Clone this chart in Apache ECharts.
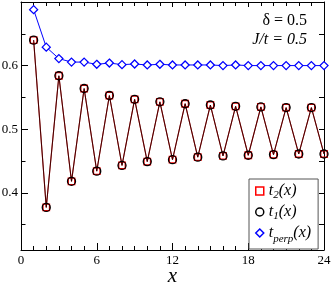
<!DOCTYPE html>
<html>
<head>
<meta charset="utf-8">
<script src="https://cdn.jsdelivr.net/npm/echarts@6/dist/echarts.min.js"></script>
<style>html,body{margin:0;padding:0;background:#fff}#c{width:332px;height:285px}</style>
</head>
<body>
<div id="c"></div>
<script>
const xs = [1,2,3,4,5,6,7,8,9,10,11,12,13,14,15,16,17,18,19,20,21,22,23,24];
const t1 = [0.640,0.377,0.584,0.418,0.564,0.434,0.553,0.443,0.547,0.449,0.543,0.452,
            0.540,0.456,0.538,0.458,0.536,0.459,0.535,0.460,0.534,0.461,0.534,0.461];
const t2 = [0.640,0.377,0.584,0.418,0.564,0.434,0.553,0.443,0.547,0.449,0.543,0.452,
            0.540,0.456,0.538,0.458,0.536,0.459,0.535,0.460,0.534,0.461,0.534,0.461];
const tperp = [0.688,0.629,0.611,0.6055,0.6055,0.602,0.604,0.6015,0.6025,0.601,0.602,0.601,
               0.601,0.601,0.601,0.600,0.601,0.600,0.600,0.600,0.600,0.600,0.600,0.600];
const yLabels = [0.4,0.5,0.6];
const yMinor = [0.35,0.45,0.55,0.65];
const xLabels = [0,6,12,18,24];

const SERIF = '"Liberation Serif","DejaVu Serif",serif';
const pair = a => xs.map((x,i)=>[x,a[i]]);
const chart = echarts.init(document.getElementById('c'), null, {renderer:'canvas'});

const yBase = {type:'value', min:0.31, max:0.7, splitLine:{show:false}};
const xBase = {type:'value', min:0, max:24, interval:6, splitLine:{show:false}};
const legendNames = {
  t2: '{i|t}{s|2}{i|(x)}',
  t1: '{i|t}{s|1}{i|(x)}',
  tperp: '{i|t}{p|perp}{i|(x)}'
};

chart.setOption({
  animation:false,
  grid:{left:21, right:8, top:2, bottom:35, outerBoundsMode:'none', containLabel:false},
  xAxis:[
    Object.assign({}, xBase, {position:'bottom',
      axisLine:{lineStyle:{color:'#000',width:1}},
      axisTick:{inside:true,length:7,lineStyle:{color:'#000'}},
      minorTick:{show:true,splitNumber:6,length:4,lineStyle:{color:'#000'}},
      axisLabel:{fontFamily:SERIF,fontSize:13,color:'#000',margin:4,customValues:xLabels},
      name:'x', nameLocation:'middle', nameGap:16, nameMoveOverlap:false,
      nameTextStyle:{fontFamily:SERIF,fontStyle:'italic',fontSize:21,color:'#000'}}),
    Object.assign({}, xBase, {position:'top',
      axisLine:{lineStyle:{color:'#000',width:1}},
      axisTick:{inside:true,length:5,lineStyle:{color:'#000'}},
      minorTick:{show:true,splitNumber:6,length:4,lineStyle:{color:'#000'}},
      axisLabel:{show:false}})
  ],
  yAxis:[
    Object.assign({}, yBase, {position:'left',
      axisLine:{show:true,lineStyle:{color:'#000',width:1}},
      axisTick:{inside:true,length:7,customValues:yLabels,lineStyle:{color:'#000'}},
      axisLabel:{fontFamily:SERIF,fontSize:13,color:'#000',margin:3,customValues:yLabels,
        formatter:v=>v.toFixed(1)}}),
    Object.assign({}, yBase, {position:'left',
      axisLine:{show:false},
      axisTick:{inside:true,length:4.5,customValues:yMinor,lineStyle:{color:'#000'}},
      axisLabel:{show:false}}),
    Object.assign({}, yBase, {position:'right',
      axisLine:{show:true,lineStyle:{color:'#000',width:1}},
      axisTick:{inside:true,length:5,customValues:yLabels.concat(yMinor),lineStyle:{color:'#000'}},
      axisLabel:{show:false}})
  ],
  legend:{
    orient:'vertical', left:249, top:179,
    backgroundColor:'#fff', borderColor:'#555', borderWidth:1, borderRadius:0,
    padding:[4,7,4,6], itemWidth:8, itemHeight:8, itemGap:3,
    data:[
      {name:'t2', icon:'rect', itemStyle:{color:'transparent',borderColor:'#ff0000',borderWidth:1.5}},
      {name:'t1', icon:'circle', itemStyle:{color:'transparent',borderColor:'#000',borderWidth:1.5}},
      {name:'tperp', icon:'diamond', itemStyle:{color:'transparent',borderColor:'#0000ff',borderWidth:1.5}}
    ],
    formatter:n=>legendNames[n],
    textStyle:{color:'#000',
      rich:{
        i:{fontFamily:SERIF,fontStyle:'italic',fontSize:16,color:'#000',lineHeight:20,verticalAlign:'middle'},
        s:{fontFamily:SERIF,fontStyle:'italic',fontSize:11,color:'#000',verticalAlign:'top',padding:[9,0,0,0]},
        p:{fontFamily:SERIF,fontStyle:'italic',fontSize:11,color:'#000',verticalAlign:'top',padding:[13,0,0,0]}
      }}
  },
  graphic:[
    {type:'text', x:307, y:21, style:{text:'δ = 0.5', font:'16px '+SERIF, fill:'#000', align:'right', verticalAlign:'middle'}},
    {type:'text', x:307, y:40, style:{text:'J/t = 0.5', font:'italic 16px '+SERIF, fill:'#000', align:'right', verticalAlign:'middle'}}
  ],
  series:[
    {name:'t2', type:'line', data:pair(t2), symbol:'rect', symbolSize:6.5,
      lineStyle:{color:'#cc0000', width:1.1},
      itemStyle:{color:'transparent', borderColor:'#ff0000', borderWidth:1.3}, z:2},
    {name:'t1', type:'line', data:pair(t1), symbol:'circle', symbolSize:8,
      lineStyle:{color:'#000', width:0.8, opacity:0.85},
      itemStyle:{color:'transparent', borderColor:'#000', borderWidth:1.3}, z:3},
    {name:'tperp', type:'line', data:pair(tperp), symbol:'diamond', symbolSize:8,
      lineStyle:{color:'#0000ff', width:1},
      itemStyle:{color:'#fff', borderColor:'#0000ff', borderWidth:1.3}, z:4}
  ]
});
</script>
</body>
</html>
